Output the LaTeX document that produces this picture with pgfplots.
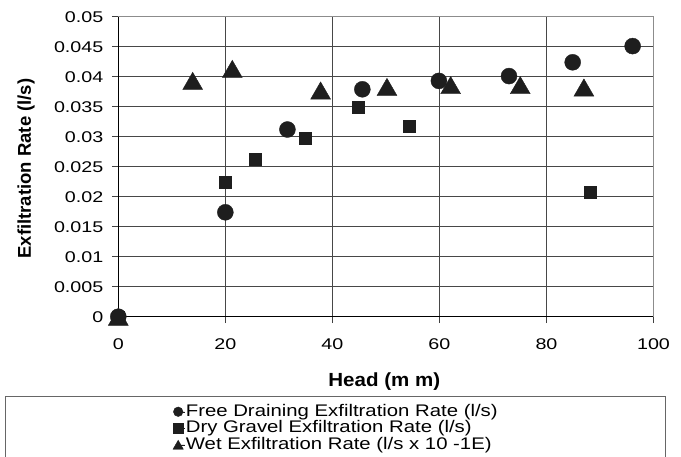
\documentclass[border=0pt]{standalone}
\usepackage{fontspec}
\setmainfont{Liberation Sans}
\newfontfamily\tickfamily[FakeStretch=1.27]{Liberation Sans}
\newfontfamily\legfamily[FakeStretch=1.21]{Liberation Sans}
\newfontfamily\headfamily[FakeStretch=1.08]{Liberation Sans}
\usepackage{pgfplots}
\pgfplotsset{compat=1.18}

\newcommand\tickfont{\fontsize{15.5bp}{18bp}\tickfamily}
\newcommand\legfont{\fontsize{16.8bp}{19bp}\legfamily}

\definecolor{markc}{HTML}{1E1E1E}

\pgfplotsset{
  ptstyle/.style={only marks, color=markc, fill=markc,
    legend image code/.code={\draw[##1] plot coordinates {(0bp,0bp)};
      \path (0bp,0bp) -- (6.5bp,0bp);}},
}

\begin{document}
\begin{tikzpicture}
\begin{axis}[
    at={(0,0)}, anchor=south west,
    scale only axis,
    width=535.2bp, height=300bp,
    xmin=0, xmax=100,
    ymin=0, ymax=0.05,
    clip=false,
    axis x line=bottom, axis y line=left,
    axis line style={-, black, line width=0.9bp},
    xtick={0,20,40,60,80,100},
    xticklabels={0,20,40,60,80,100},
    ytick={0,0.005,0.01,0.015,0.02,0.025,0.03,0.035,0.04,0.045,0.05},
    yticklabels={0,0.005,0.01,0.015,0.02,0.025,0.03,0.035,0.04,0.045,0.05},
    scaled y ticks=false,
    tick align=outside,
    major tick length=6.5bp,
    tick style={black!75, line width=0.8bp},
    grid=major,
    major grid style={black!72, line width=0.8bp},
    ticklabel style={font=\tickfont},
    xticklabel style={yshift=-3bp},
    yticklabel shift=5bp,
    xticklabel shift=9bp,
    xlabel={Head (m m)},
    ylabel={Exfiltration Rate (l/s)},
    every axis x label/.style={at={(axis description cs:0.497,-0.2167)}, anchor=center,
      font=\fontsize{19bp}{22bp}\headfamily\bfseries},
    every axis y label/.style={at={(axis description cs:-0.1725,0.494)}, anchor=center, rotate=90,
      font=\fontsize{18.5bp}{22bp}\selectfont\bfseries},
    legend style={at={(axis description cs:0.1022,-0.291)}, anchor=north west,
      draw=none, fill=none, inner sep=0pt, outer sep=0pt,
      column sep=1bp, row sep=1bp, font=\legfont,
      nodes={inner sep=0pt, text height=12bp, text depth=3.5bp}},
    legend cell align=left,
]
\draw[black!45, line width=0.9bp] (rel axis cs:0,1) -- (rel axis cs:1,1) -- (rel axis cs:1,0);

% Free draining
\addplot[ptstyle, mark=*, mark size=8bp, legend image post style={mark size=4.8bp}]
coordinates {
(0,0) (20,0.0174) (31.6,0.0312) (45.6,0.0379) (59.9,0.0393)
(73,0.0401) (84.9,0.0424) (96.1,0.0451)
};
% Dry gravel
\addplot[ptstyle, mark=square*, mark size=6bp, legend image post style={mark size=4.7bp}]
coordinates {
(0,0) (20,0.0225) (25.5,0.0262) (35,0.0298) (44.9,0.0349)
(54.3,0.0318) (88.1,0.0208)
};
% Wet
\addplot[ptstyle, mark=triangle*, mark size=11.5bp, mark options={yshift=-2.9bp},
    legend image post style={mark size=6bp, mark options={yshift=-1.5bp}}]
coordinates {
(0,0) (13.9,0.0393) (21.3,0.0413) (37.8,0.0377) (50.2,0.0383)
(62.1,0.0386) (75.1,0.0386) (87,0.0382)
};
\legend{Free Draining Exfiltration Rate (l/s), Dry Gravel Exfiltration Rate (l/s), Wet Exfiltration Rate (l/s x 10 -1E)}
\end{axis}
\draw[black!60, line width=0.9bp] (-113.3bp,-170bp) -- (-113.3bp,-79.8bp) -- (546.7bp,-79.8bp) -- (546.7bp,-170bp);
\pgfresetboundingbox
\path[use as bounding box] (-118.3bp,-140.3bp) rectangle (562.7bp,316.7bp);
\end{tikzpicture}
\end{document}
